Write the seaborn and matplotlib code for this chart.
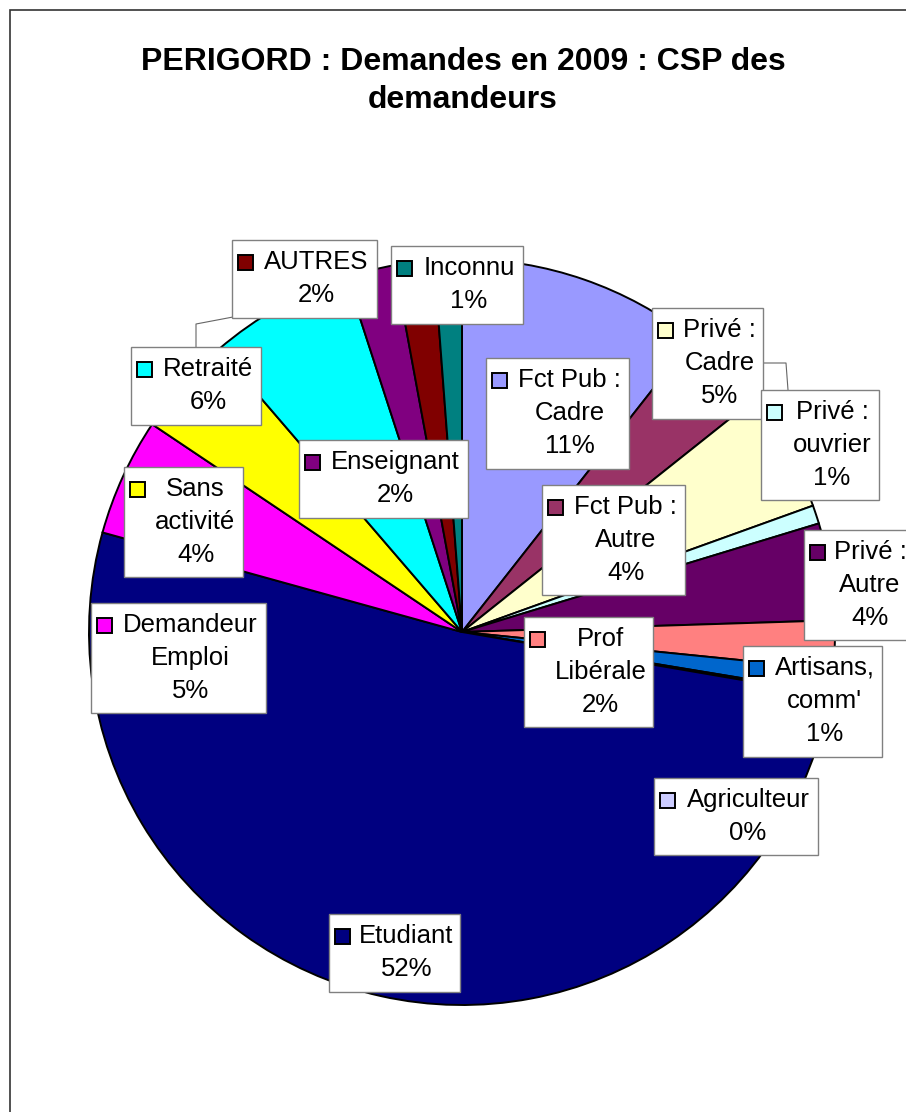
import matplotlib.pyplot as plt
import seaborn as sns
from matplotlib.patches import Rectangle

# data (clockwise from 12 o'clock)
categories = ["Fct Pub : Cadre", "Fct Pub : Autre", "Privé : Cadre", "Privé : ouvrier",
              "Privé : Autre", "Prof Libérale", "Artisans, comm'", "Agriculteur",
              "Etudiant", "Demandeur Emploi", "Sans activité", "Retraité",
              "Enseignant", "AUTRES", "Inconnu"]
values = [10.6, 3.7, 5.2, 0.8, 4.2, 2.1, 1.0, 0.1, 51.6, 5.1, 4.3, 6.3, 2.1, 1.7, 1.2]
label_lines = ["Fct Pub :\nCadre", "Fct Pub :\nAutre", "Privé :\nCadre", "Privé :\nouvrier",
               "Privé :\nAutre", "Prof\nLibérale", "Artisans,\ncomm'", "Agriculteur",
               "Etudiant", "Demandeur\nEmploi", "Sans\nactivité", "Retraité",
               "Enseignant", "AUTRES", "Inconnu"]
hex_colors = ["#9999FF", "#993366", "#FFFFCC", "#CCFFFF", "#660066", "#FF8080", "#0066CC",
              "#CCCCFF", "#000080", "#FF00FF", "#FFFF00", "#00FFFF", "#800080", "#800000",
              "#008080"]

# label box layout in image pixels (x0, y0, x1, y1), y measured from the top
box_pos = [(486, 358, 629, 469), (542, 485, 685, 595), (652, 308, 763, 419),
           (761, 390, 879, 500), (804, 530, 912, 640), (524, 617, 653, 727),
           (743, 646, 882, 757), (654, 778, 818, 855), (329, 914, 460, 992),
           (91, 603, 266, 713), (124, 467, 243, 577), (131, 347, 261, 425),
           (299, 440, 468, 518), (232, 240, 377, 318), (391, 246, 523, 324)]

W, H = 906, 1112

sns.set_style("white")
plt.rcParams['font.family'] = ['Liberation Sans', 'DejaVu Sans']
plt.rcParams['text.color'] = 'black'
colors = sns.color_palette(hex_colors)


def fy(y):
    return H - y


fig = plt.figure(figsize=(W / 100, H / 100), dpi=100)
ax = fig.add_axes([0, 0, 1, 1])

ax.pie(values, colors=colors, startangle=90, counterclock=False,
       center=(462, fy(632)), radius=373,
       wedgeprops=dict(edgecolor='black', linewidth=1.4))
ax.set_xlim(0, W)
ax.set_ylim(0, H)
ax.set_aspect('auto')
ax.axis('off')

# leader lines
ax.plot([196, 196, 233], [fy(347), fy(324), fy(317)], color='#666666', lw=0.8, zorder=4)
ax.plot([763, 786, 788], [fy(363), fy(363), fy(390)], color='#666666', lw=0.8, zorder=4)

# data labels
for lab, val, col, (x0, y0, x1, y1) in zip(label_lines, values, colors, box_pos):
    ax.add_patch(Rectangle((x0, fy(y1)), x1 - x0, y1 - y0, facecolor='white',
                           edgecolor='#808080', lw=1, zorder=5))
    ax.add_patch(Rectangle((x0 + 6, fy(y0 + 30)), 15, 15, facecolor=col,
                           edgecolor='black', lw=1.4, zorder=6))
    lines = lab.split("\n") + [f"{val:.0f}%"]
    cx = (x0 + 24 + x1) / 2
    for i, line in enumerate(lines):
        ax.text(cx, fy(y0 + 22 + 33 * i), line, ha='center', va='center',
                fontsize=18.5, color='black', zorder=7)

ax.text(463, fy(62), "PERIGORD : Demandes en 2009 : CSP des", ha='center', va='center',
        fontsize=23, fontweight='bold', color='black')
ax.text(463, fy(100), "demandeurs", ha='center', va='center',
        fontsize=23, fontweight='bold', color='black')

# chart area border
ax.add_patch(Rectangle((10, -20), W + 20, fy(10) + 20, facecolor='none',
                       edgecolor='#333333', lw=1.2, zorder=8, clip_on=False))

fig.savefig("out.png", dpi=100, facecolor='white')
